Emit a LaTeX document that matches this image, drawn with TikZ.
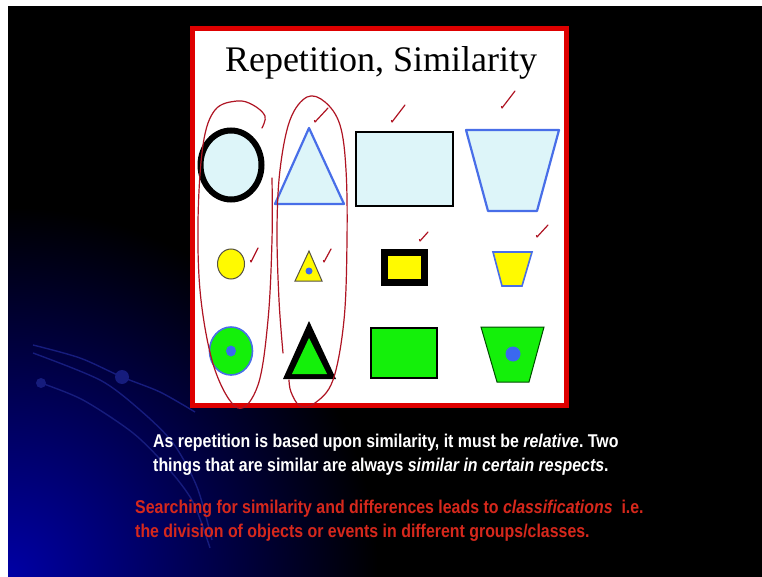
\documentclass[tikz,border=0pt]{standalone}
\usepackage{fontspec}
\setmainfont{Liberation Serif}
\newfontfamily\slidefont[FakeStretch=0.86]{Liberation Sans}
\usetikzlibrary{arrows.meta,positioning}
\frenchspacing

\definecolor{lightcyan}{RGB}{221,245,249}
\definecolor{shapeblue}{RGB}{72,110,232}
\definecolor{dotblue}{RGB}{58,104,240}
\definecolor{brightyellow}{RGB}{255,250,0}
\definecolor{brightgreen}{RGB}{20,240,10}
\definecolor{penred}{RGB}{175,20,35}
\definecolor{framered}{RGB}{222,0,0}
\definecolor{textred}{RGB}{214,40,28}
\definecolor{arcblue}{RGB}{22,28,125}
\definecolor{glowblue}{RGB}{0,0,165}

\begin{document}
\begin{tikzpicture}[
  x=1pt,y=-1pt,
  >=Stealth,
  annot/.style={draw=penred,line width=1.2pt,line cap=round,line join=round},
  light/.style={fill=lightcyan},
  bedge/.style={draw=shapeblue,line width=2.2pt,line join=round},
  dot/.style={fill=dotblue},
  arcline/.style={draw=arcblue,line width=1.4pt},
  body/.style={font=\slidefont\bfseries\fontsize{18.5}{23}\selectfont,anchor=base west,inner sep=0pt}
]
\useasboundingbox (0,0) rectangle (762,577);
% slide background
\fill[white] (0,0) rectangle (762,577);
\fill[black] (8,6) rectangle (762,577);
\begin{scope}
  \clip (8,6) rectangle (762,577);
  \shade[inner color=glowblue,outer color=black] (8,577) circle (370);
\end{scope}
\draw[arcline] plot[smooth] coordinates {(33,345) (80,358) (122,377) (160,392) (195,412)};
\draw[arcline] plot[smooth] coordinates {(33,353) (100,380) (140,410) (173,443) (197,487) (212,540)};
\draw[arcline] plot[smooth] coordinates {(41,383) (83,400) (133,433) (167,467) (193,502) (210,548)};
\fill[arcblue] (122,377) circle (7);
\fill[arcblue] (41,383) circle (5);

% framed picture
\draw[framered,fill=white,line width=5pt] (192.5,28.5) rectangle (566.5,405.5);
\node[font=\fontsize{36}{40}\selectfont,anchor=base,inner sep=0pt] (title) at (381,72) {Repetition, Similarity};

% row 1
\draw[light,draw=black,line width=6pt] (231,165) ellipse (30.5 and 34.5);
\draw[light,bedge] (309,128) -- (344,204) -- (275,204) -- cycle;
\draw[light,draw=black,line width=1.6pt] (356,132) rectangle (453,206);
\draw[light,bedge] (466,130) -- (559,130) -- (537,211) -- (488,211) -- cycle;

% row 2
\draw[fill=brightyellow,draw=black!60!yellow!60!black,line width=1pt] (231,264) ellipse (13.5 and 15);
\draw[fill=brightyellow,draw=black!60!yellow!60!black,line width=1pt] (309,251) -- (322,281) -- (295,281) -- cycle;
\fill[dot] (309,271) circle (3.5);
\draw[fill=brightyellow,draw=black,line width=7pt] (384.5,252.5) rectangle (424.5,282.5);
\draw[fill=brightyellow,draw=shapeblue,line width=1.6pt] (493,252) -- (532,252) -- (522,286) -- (502,286) -- cycle;

% row 3
\draw[fill=brightgreen,draw=shapeblue,line width=1.6pt] (231,351) ellipse (21.5 and 24);
\fill[dot] (231,351) ellipse (5 and 5.5);
\fill[black] (309,321) -- (336,379) -- (283,379) -- cycle;
\fill[brightgreen] (309,338) -- (327,374) -- (292,374) -- cycle;
\draw[fill=brightgreen,draw=black,line width=2pt] (371,328) rectangle (437,378);
\draw[fill=brightgreen,draw=black!70!green,line width=1pt] (481,327) -- (544,327) -- (529,382) -- (497,382) -- cycle;
\fill[dot] (513,354) circle (7.5);

% pen marks
\draw[annot] plot[smooth,tension=0.6] coordinates {(262,128) (265,116) (253,105) (237,101) (215,110) (203,145) (198,222) (201,300) (215,370) (238,408) (258,385) (268,320) (272,240) (272,178)};
\draw[annot] plot[smooth,tension=0.6] coordinates {(283,353) (279,300) (277,230) (280,170) (290,120) (307,97) (325,102) (340,125) (346,170) (347,240) (344,320) (333,380) (315,403) (300,406) (291,392) (289,380)};
\draw[annot] (314.5,120.5) -- (315,122) -- ++(13,-14);
\draw[annot] (391.5,120.5) -- (392,122) -- ++(13,-17);
\draw[annot] (501.5,106.5) -- (502,108) -- ++(13,-17);
\draw[annot] (250.5,260.5) -- (251,262) -- ++(7,-14);
\draw[annot] (323.5,260.5) -- (324,262) -- ++(7,-13);
\draw[annot] (419.5,239.5) -- (420,241) -- ++(8,-9);
\draw[annot] (536.5,235.5) -- (537,237) -- ++(11,-12);

% slide text
\node[body,white] (relative) at (153,447) {As repetition is based upon similarity, it must be \textit{relative}. Two};
\node[body,white] (respects) at (153,471) {things that are similar are always \textit{similar in certain respects}.};
\node[body,textred] (classes) at (135,513) {Searching for similarity and differences leads to \textit{classifications}\ \ i.e.};
\node[body,textred] (groups) at (135,537) {the division of objects or events in different groups/classes.};
\end{tikzpicture}
\end{document}
